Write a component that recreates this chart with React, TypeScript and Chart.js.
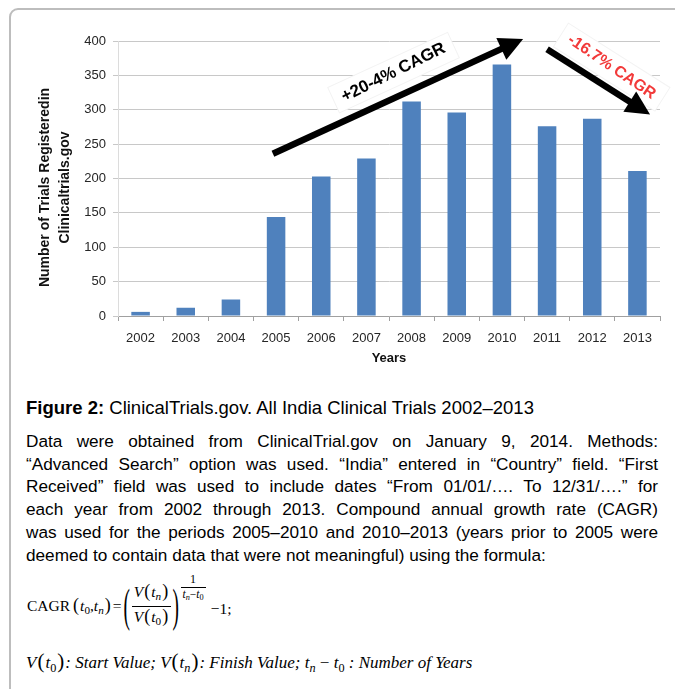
import React, { useEffect, useRef } from "react";
import { Chart, registerables } from "chart.js";

Chart.register(...registerables);

// ---------- data ----------
const years = ["2002", "2003", "2004", "2005", "2006", "2007", "2008", "2009", "2010", "2011", "2012", "2013"];
const trials = [6, 12, 24, 144, 203, 229, 312, 296, 366, 276, 287, 211];
const yMin = 0;
const yMax = 400;
const yStep = 50;
const yTitleLines = ["Number of Trials Registeredin", "Clinicaltrials.gov"];
const xTitle = "Years";

// CAGR annotation arrows, in (category index, value) units
const arrowStarts = [[2.93, 236], [9.0, 388]];
const arrowEnds = [[8.47, 403], [11.28, 293]];
const cagrLabels = ["+20-4% CAGR", "-16.7% CAGR"];
const cagrLabelAnchors = [[5.6, 354], [10.43, 362]];
const cagrLabelColors = ["#000000", "#f23a3a"];

const paragraphLines = [
  "Data were obtained from ClinicalTrial.gov on January 9, 2014. Methods:",
  "\u201cAdvanced Search\u201d option was used. \u201cIndia\u201d entered in \u201cCountry\u201d field. \u201cFirst",
  "Received\u201d field was used to include dates \u201cFrom 01/01/\u2026. To 12/31/\u2026.\u201d for",
  "each year from 2002 through 2013. Compound annual growth rate (CAGR)",
  "was used for the periods 2005\u20132010 and 2010\u20132013 (years prior to 2005 were",
];
const paragraphLastLine = "deemed to contain data that were not meaningful) using the formula:";

const SANS = "'Liberation Sans', Arial, Helvetica, sans-serif";
const SERIF = "'Liberation Serif', 'Times New Roman', serif";

const yTitlePlugin = {
  id: "yTitleLines",
  afterDraw(chart: any) {
    const { ctx } = chart;
    const ys = chart.scales.y;
    const cy = (ys.top + ys.bottom) / 2 + 9;
    ctx.save();
    ctx.font = `bold 14px ${SANS}`;
    ctx.fillStyle = "#111";
    ctx.textAlign = "center";
    ctx.textBaseline = "middle";
    yTitleLines.forEach((line, i) => {
      ctx.save();
      ctx.translate(ys.left + 35 + i * 20, cy);
      ctx.rotate(-Math.PI / 2);
      ctx.fillText(line, 0, 0);
      ctx.restore();
    });
    ctx.restore();
  },
};

const cagrPlugin = {
  id: "cagrArrows",
  afterDatasetsDraw(chart: any) {
    const { ctx } = chart;
    const xs = chart.scales.x;
    const ys = chart.scales.y;
    const px = (p: number[]) => [xs.getPixelForValue(p[0]), ys.getPixelForValue(p[1])];
    ctx.save();
    const angles = arrowStarts.map((s, i) => {
      const a = px(s);
      const b = px(arrowEnds[i]);
      return Math.atan2(b[1] - a[1], b[0] - a[0]);
    });
    // label backgrounds
    cagrLabels.forEach((txt, i) => {
      const [cx, cy] = px(cagrLabelAnchors[i]);
      ctx.save();
      ctx.translate(cx, cy);
      ctx.rotate(angles[i]);
      ctx.font = `bold ${i === 0 ? 17 : 16}px ${SANS}`;
      const w = ctx.measureText(txt).width;
      ctx.fillStyle = "#ffffff";
      ctx.fillRect(-w / 2 - 9, -14, w + 18, 28);
      ctx.strokeStyle = "#f3f3f3";
      ctx.lineWidth = 1;
      ctx.strokeRect(-w / 2 - 9, -14, w + 18, 28);
      ctx.restore();
    });
    // arrows
    arrowStarts.forEach((s, i) => {
      const a = px(s);
      const b = px(arrowEnds[i]);
      const ang = angles[i];
      const headLen = 24;
      const headHalf = 12;
      const bx = b[0] - Math.cos(ang) * headLen;
      const by = b[1] - Math.sin(ang) * headLen;
      ctx.strokeStyle = "#000";
      ctx.lineWidth = 6.5;
      ctx.lineCap = "butt";
      ctx.beginPath();
      ctx.moveTo(a[0], a[1]);
      ctx.lineTo(bx + Math.cos(ang) * 2, by + Math.sin(ang) * 2);
      ctx.stroke();
      ctx.fillStyle = "#000";
      ctx.beginPath();
      ctx.moveTo(b[0], b[1]);
      ctx.lineTo(bx - Math.sin(ang) * headHalf, by + Math.cos(ang) * headHalf);
      ctx.lineTo(bx + Math.sin(ang) * headHalf, by - Math.cos(ang) * headHalf);
      ctx.closePath();
      ctx.fill();
    });
    // labels
    cagrLabels.forEach((txt, i) => {
      const [cx, cy] = px(cagrLabelAnchors[i]);
      ctx.save();
      ctx.translate(cx, cy);
      ctx.rotate(angles[i] + (i === 0 ? -0.03 : 0.03));
      ctx.font = `bold ${i === 0 ? 17 : 16}px ${SANS}`;
      ctx.fillStyle = cagrLabelColors[i];
      ctx.textAlign = "center";
      ctx.textBaseline = "middle";
      ctx.fillText(txt, 0, 0);
      ctx.restore();
    });
    ctx.restore();
  },
};

function BarChart() {
  const ref = useRef<HTMLCanvasElement | null>(null);
  useEffect(() => {
    if (!ref.current) return;
    const chart = new Chart(ref.current, {
      type: "bar",
      data: {
        labels: years,
        datasets: [
          {
            data: trials,
            backgroundColor: "#4f81bd",
            borderWidth: 0,
            categoryPercentage: 1,
            barPercentage: 0.41,
          },
        ],
      },
      options: {
        animation: false,
        responsive: false,
        maintainAspectRatio: false,
        layout: { padding: { left: 10, top: 41, right: 15, bottom: 14 } },
        plugins: { legend: { display: false }, tooltip: { enabled: false }, title: { display: false } },
        scales: {
          x: {
            grid: { display: true, drawOnChartArea: false, drawTicks: true, tickLength: 5, color: "#a0a0a0" },
            border: { display: true, color: "#a0a0a0", width: 1 },
            ticks: { color: "#262626", font: { family: SANS, size: 13 }, padding: 10, maxRotation: 0 },
            title: {
              display: true,
              text: xTitle,
              color: "#111",
              font: { family: SANS, size: 13, weight: "bold" },
              padding: { top: 0, bottom: 0 },
            },
            afterFit: (s: any) => {
              s.height = 50;
            },
          },
          y: {
            min: yMin,
            max: yMax,
            ticks: { stepSize: yStep, color: "#262626", font: { family: SANS, size: 13 }, padding: 7 },
            grid: { color: "#c8c8c8", lineWidth: 1, tickLength: 5 },
            border: { display: true, color: "#dcdcdc" },
            title: { display: false },
            afterFit: (s: any) => {
              s.width = 108;
            },
          },
        },
      },
      plugins: [cagrPlugin, yTitlePlugin],
    } as any);
    return () => chart.destroy();
  }, []);
  return (
    <canvas
      ref={ref}
      width={675}
      height={380}
      style={{ position: "absolute", left: 0, top: 0, width: 675, height: 380 }}
    />
  );
}

const sub: React.CSSProperties = { fontSize: "0.72em", verticalAlign: "-0.3em", fontStyle: "normal" };
const subI: React.CSSProperties = { fontSize: "0.72em", verticalAlign: "-0.3em", fontStyle: "italic" };
const bigParen: React.CSSProperties = {
  fontSize: 46,
  display: "inline-block",
  transform: "scaleX(0.42)",
  margin: "0 -5px",
  lineHeight: "46px",
  fontWeight: 300,
};

export default function App() {
  return (
    <div
      style={{
        position: "absolute",
        left: 0,
        top: 0,
        width: 675,
        height: 689,
        overflow: "hidden",
        background: "#fff",
      }}
    >
      <div
        style={{
          position: "absolute",
          left: 9,
          top: 8,
          width: 720,
          height: 720,
          border: "2px solid #bdbdbd",
          borderRadius: 9,
          boxSizing: "border-box",
        }}
      />
      <BarChart />
      {/* caption */}
      <div
        style={{
          position: "absolute",
          left: 26,
          top: 396,
          fontFamily: SANS,
          fontSize: 18.5,
          lineHeight: "23px",
          color: "#000",
          whiteSpace: "nowrap",
        }}
      >
        <b>Figure 2:</b> ClinicalTrials.gov. All India Clinical Trials 2002{"\u2013"}2013
      </div>
      <div
        style={{
          position: "absolute",
          left: 26,
          top: 430,
          width: 632,
          fontFamily: SANS,
          fontSize: 17.2,
          lineHeight: "22.7px",
          color: "#000",
        }}
      >
        {paragraphLines.map((l, i) => (
          <div key={i} style={{ textAlign: "justify", textAlignLast: "justify" }}>
            {l}
          </div>
        ))}
        <div style={{ textAlign: "left" }}>{paragraphLastLine}</div>
      </div>
      {/* formula */}
      <div
        style={{
          position: "absolute",
          left: 27,
          top: 583,
          height: 46,
          display: "flex",
          alignItems: "center",
          fontFamily: SERIF,
          fontSize: 15.5,
          color: "#000",
          whiteSpace: "nowrap",
        }}
      >
        <span>
          CAGR
          <span style={{ fontSize: 18, margin: "0 1px 0 3px" }}>(</span>
          <i>t</i>
          <span style={sub}>0</span>,<i>t</i>
          <span style={subI}>n</span>
          <span style={{ fontSize: 18, marginLeft: 1 }}>)</span>
          <span style={{ margin: "0 3px 0 2px" }}>=</span>
        </span>
        <span style={bigParen}>(</span>
        <span
          style={{ display: "inline-flex", flexDirection: "column", alignItems: "center", lineHeight: "18px", margin: "0 2px" }}
        >
          <span style={{ padding: "0 2px" }}>
            <i>V</i>
            <span style={{ fontSize: 18, margin: "0 1px" }}>(</span>
            <i>t</i>
            <span style={subI}>n</span>
            <span style={{ fontSize: 18, margin: "0 1px" }}>)</span>
          </span>
          <span style={{ alignSelf: "stretch", borderTop: "1px solid #000" }} />
          <span style={{ padding: "0 2px" }}>
            <i>V</i>
            <span style={{ fontSize: 18, margin: "0 1px" }}>(</span>
            <i>t</i>
            <span style={sub}>0</span>
            <span style={{ fontSize: 18, margin: "0 1px" }}>)</span>
          </span>
        </span>
        <span style={bigParen}>)</span>
        <span
          style={{
            display: "inline-flex",
            flexDirection: "column",
            alignItems: "center",
            fontSize: 11.5,
            lineHeight: "12px",
            position: "relative",
            top: -17,
            marginLeft: 2,
            marginRight: 5,
          }}
        >
          <span style={{ fontSize: 12, marginBottom: 2 }}>1</span>
          <span style={{ alignSelf: "stretch", borderTop: "1px solid #000" }} />
          <span style={{ padding: "0 2px" }}>
            <i>t</i>
            <span style={subI}>n</span>
            {"\u2212"}
            <i>t</i>
            <span style={sub}>0</span>
          </span>
        </span>
        <span style={{ position: "relative", top: 3 }}>{"\u2212"}1;</span>
      </div>
      <div
        style={{
          position: "absolute",
          left: 26,
          top: 649,
          fontFamily: SERIF,
          fontSize: 17,
          lineHeight: "24px",
          color: "#000",
          whiteSpace: "nowrap",
        }}
      >
        <i>V</i>
        <span style={{ fontSize: 21, margin: "0 1px" }}>(</span>
        <i>t</i>
        <span style={sub}>0</span>
        <span style={{ fontSize: 21, margin: "0 1px" }}>)</span>
        <i>: Start Value; </i>
        <i>V</i>
        <span style={{ fontSize: 21, margin: "0 1px" }}>(</span>
        <i>t</i>
        <span style={subI}>n</span>
        <span style={{ fontSize: 21, margin: "0 1px" }}>)</span>
        <i>: Finish Value; t</i>
        <span style={subI}>n</span> {"\u2212"} <i>t</i>
        <span style={sub}>0</span>
        <i> : Number of Years</i>
      </div>
    </div>
  );
}
